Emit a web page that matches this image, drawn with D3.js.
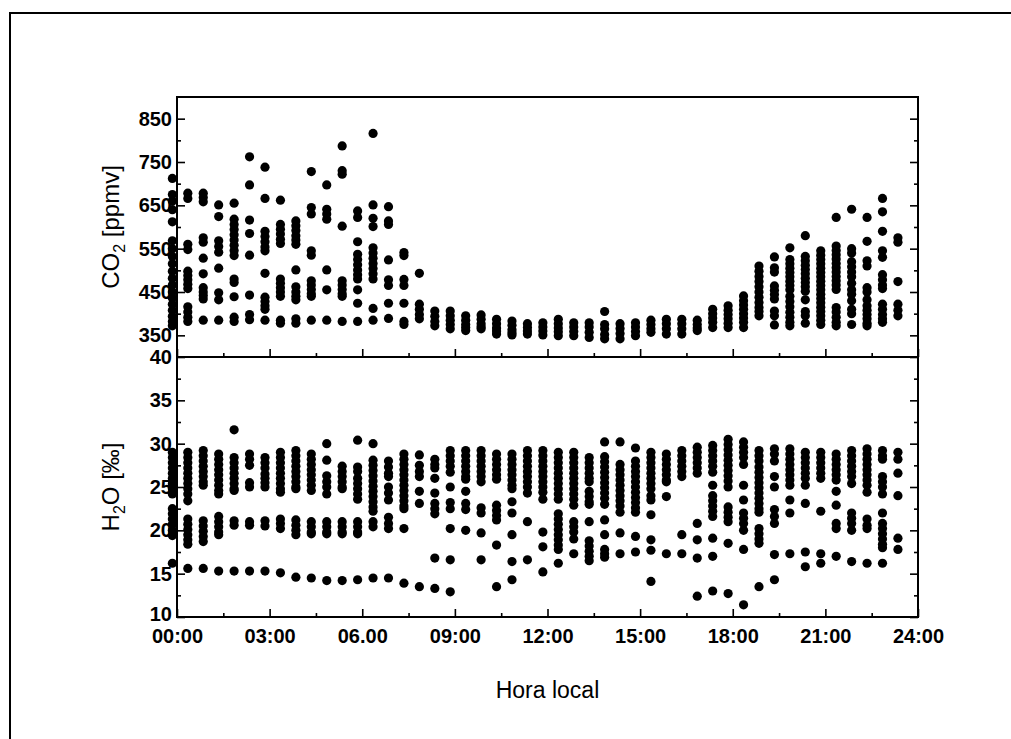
<!DOCTYPE html>
<html><head><meta charset="utf-8">
<script src="https://cdn.jsdelivr.net/npm/d3@7"></script>
<style>body{margin:0;background:#fff}</style>
</head><body>
<svg id="c" width="1011" height="739" xmlns="http://www.w3.org/2000/svg"></svg>
<script>
// time of each measurement column (decimal local hours)
const times = [-0.15, 0.35, 0.85, 1.35, 1.85, 2.35, 2.85, 3.35, 3.85, 4.35, 4.85, 5.35, 5.85, 6.35, 6.85, 7.35,
  7.85, 8.35, 8.85, 9.35, 9.85, 10.35, 10.85, 11.35, 11.85, 12.35, 12.85, 13.35, 13.85, 14.35, 14.85, 15.35,
  15.85, 16.35, 16.85, 17.35, 17.85, 18.35, 18.85, 19.35, 19.85, 20.35, 20.85, 21.35, 21.85, 22.35, 22.85, 23.35];

// CO2 [ppmv] values per column
const co2 = [
  [712, 675, 660, 640, 612, 568, 550, 532, 515, 498, 482, 466, 450, 436, 422, 408, 394, 382, 372],
  [678, 666, 560, 548, 498, 488, 478, 468, 458, 416, 404, 392, 382],
  [678, 668, 658, 575, 565, 528, 492, 460, 450, 442, 434, 385],
  [651, 624, 568, 555, 542, 505, 448, 432, 385],
  [655, 618, 606, 594, 582, 570, 558, 546, 534, 480, 472, 439, 392, 382],
  [762, 697, 616, 585, 535, 443, 398, 386],
  [738, 666, 590, 578, 566, 554, 545, 493, 438, 428, 418, 410, 385],
  [662, 606, 595, 584, 572, 562, 480, 470, 460, 450, 440, 385, 378],
  [614, 603, 592, 580, 570, 560, 501, 462, 450, 440, 432, 388, 378],
  [728, 645, 630, 545, 535, 476, 466, 456, 446, 440, 385],
  [697, 641, 630, 618, 501, 455, 385],
  [787, 730, 722, 602, 476, 466, 456, 446, 440, 382],
  [637, 622, 566, 537, 525, 513, 501, 490, 480, 455, 424, 382],
  [816, 651, 620, 601, 552, 540, 528, 516, 504, 492, 480, 412, 385],
  [647, 614, 606, 524, 478, 465, 424, 389],
  [541, 534, 479, 465, 424, 382, 375],
  [493, 422, 410, 398, 388],
  [406, 394, 382, 372],
  [406, 395, 385, 375, 365],
  [395, 385, 375, 368, 361],
  [397, 387, 377, 370, 365],
  [387, 377, 367, 360, 353],
  [383, 373, 363, 356, 351],
  [377, 368, 360, 353],
  [379, 369, 360, 351],
  [387, 377, 367, 358, 349],
  [379, 369, 359, 349],
  [379, 369, 357, 345],
  [405, 375, 365, 352, 342],
  [377, 366, 354, 342],
  [379, 369, 359, 349],
  [385, 375, 365, 357],
  [387, 377, 365, 353],
  [387, 377, 365, 353],
  [385, 375, 367, 361],
  [410, 400, 390, 380, 368],
  [418, 408, 398, 388, 378, 368],
  [441, 430, 420, 410, 400, 390, 380, 368],
  [510, 498, 486, 474, 462, 450, 438, 426, 414, 405, 395],
  [531, 506, 496, 464, 454, 444, 434, 406, 395, 374],
  [552, 525, 515, 505, 495, 485, 475, 465, 455, 440, 428, 416, 403, 392, 380, 372],
  [580, 532, 522, 512, 502, 492, 482, 472, 462, 452, 432, 405, 395, 378],
  [545, 535, 525, 515, 505, 495, 485, 475, 465, 455, 445, 435, 425, 415, 405, 395, 385, 375],
  [622, 556, 546, 536, 526, 516, 506, 496, 486, 476, 466, 456, 414, 404, 392, 380, 372],
  [641, 550, 540, 520, 508, 496, 485, 470, 455, 445, 430, 410, 400, 375],
  [622, 567, 522, 510, 460, 450, 432, 418, 408, 398, 388, 378, 372],
  [666, 635, 590, 545, 530, 490, 478, 466, 458, 422, 410, 398, 388, 380],
  [575, 565, 474, 422, 408, 395]
];

// H2O [per mil] values per column
const h2o = [
  [29.0, 28.4, 27.8, 27.2, 26.6, 26.0, 25.4, 24.8, 24.2, 22.5, 21.9, 21.3, 20.7, 20.0, 19.4, 16.2],
  [29.0, 28.4, 27.8, 27.2, 26.6, 26.0, 25.4, 24.8, 24.2, 23.4, 21.3, 20.7, 20.1, 19.5, 18.9, 18.4, 15.6],
  [29.2, 28.6, 28.0, 27.4, 26.8, 26.2, 25.6, 25.2, 21.1, 20.5, 19.9, 19.3, 18.7, 15.6],
  [28.8, 28.2, 27.6, 27.0, 26.4, 25.8, 25.2, 24.6, 24.2, 21.6, 21.0, 20.4, 19.8, 19.5, 15.3],
  [31.6, 28.4, 27.8, 27.2, 26.6, 26.0, 25.4, 24.8, 24.6, 21.1, 20.6, 15.3],
  [28.8, 28.2, 27.5, 25.5, 25.0, 21.0, 20.6, 15.3],
  [28.4, 27.8, 27.2, 26.5, 26.0, 25.5, 25.0, 21.1, 20.5, 15.3],
  [29.0, 28.4, 27.8, 27.2, 26.6, 26.0, 25.4, 24.8, 24.4, 21.3, 20.8, 20.2, 15.1],
  [29.2, 28.6, 28.0, 27.4, 26.8, 26.2, 25.6, 25.0, 24.8, 21.2, 20.6, 20.0, 19.5, 14.6],
  [28.8, 28.2, 27.6, 27.0, 26.4, 25.8, 25.2, 24.6, 21.0, 20.4, 19.8, 19.6, 14.5],
  [30.0, 28.1, 26.3, 25.6, 25.0, 24.2, 21.0, 20.4, 19.8, 19.6, 14.2],
  [27.4, 26.8, 26.2, 25.6, 25.0, 24.8, 21.0, 20.4, 19.8, 19.6, 14.2],
  [30.4, 27.3, 26.8, 26.0, 25.4, 24.8, 24.2, 23.6, 21.0, 20.4, 19.8, 19.6, 14.3],
  [30.0, 28.1, 27.5, 26.9, 26.3, 25.7, 25.1, 24.5, 23.9, 23.3, 22.7, 22.2, 21.0, 20.4, 14.5],
  [28.0, 27.3, 26.6, 26.2, 25.0, 24.3, 23.5, 21.5, 20.8, 20.2, 14.5],
  [28.8, 28.2, 27.6, 27.0, 26.4, 25.8, 25.2, 24.6, 24.0, 23.4, 22.8, 22.5, 20.2, 13.9],
  [28.7, 27.5, 26.8, 26.2, 24.5, 23.1, 13.5],
  [28.2, 27.6, 27.2, 26.0, 24.3, 23.1, 22.5, 21.9, 16.8, 13.3],
  [29.2, 28.6, 28.0, 27.4, 26.7, 25.0, 23.2, 22.5, 20.2, 16.6, 12.9],
  [29.2, 28.6, 28.0, 27.4, 26.8, 26.2, 25.9, 24.5, 23.1, 22.4, 20.0],
  [29.2, 28.6, 28.0, 27.4, 26.8, 26.2, 25.6, 22.6, 22.0, 19.7, 16.6],
  [28.8, 28.2, 27.6, 27.0, 26.4, 25.9, 22.9, 22.3, 21.7, 21.2, 18.3, 13.5],
  [28.8, 28.2, 27.6, 27.0, 26.4, 25.8, 25.2, 24.8, 23.3, 22.0, 19.5, 16.4, 14.3],
  [29.2, 28.6, 28.0, 27.4, 26.8, 26.2, 25.6, 25.0, 24.3, 21.0, 16.6],
  [29.2, 28.6, 28.0, 27.4, 26.8, 26.2, 25.6, 25.0, 24.4, 23.6, 19.8, 18.1, 15.2],
  [29.0, 28.4, 27.8, 27.2, 26.6, 26.0, 25.4, 24.8, 24.2, 23.6, 21.9, 21.3, 20.7, 20.1, 19.5, 18.9, 18.3, 17.8, 16.2],
  [29.0, 28.4, 27.8, 27.2, 26.6, 26.0, 25.4, 24.8, 24.2, 23.6, 22.9, 21.0, 20.4, 19.8, 19.0, 17.3],
  [28.4, 27.8, 27.2, 26.6, 26.0, 25.6, 24.5, 23.9, 23.3, 23.0, 21.0, 18.8, 18.2, 17.6, 17.0, 16.5],
  [30.2, 28.5, 27.9, 27.3, 26.7, 26.1, 25.5, 24.9, 24.3, 23.7, 23.0, 21.2, 19.5, 17.8, 17.3, 16.9],
  [30.2, 27.6, 27.0, 26.4, 25.8, 25.2, 24.6, 24.0, 23.4, 22.8, 22.1, 19.7, 17.3],
  [29.5, 28.0, 27.4, 26.8, 26.2, 25.6, 25.0, 24.4, 23.8, 23.2, 22.6, 22.1, 19.3, 17.5],
  [29.0, 28.4, 27.8, 27.2, 26.6, 26.0, 25.4, 24.8, 24.0, 23.5, 21.8, 18.9, 17.7, 14.1],
  [28.8, 28.2, 27.6, 27.0, 26.4, 25.8, 25.6, 23.9, 17.3],
  [29.2, 28.6, 28.0, 27.4, 26.8, 26.2, 19.5, 17.3],
  [29.6, 29.0, 28.4, 27.8, 27.2, 26.6, 20.8, 18.9, 16.8, 12.4],
  [29.8, 29.2, 28.6, 28.0, 27.4, 26.7, 25.2, 24.0, 23.4, 22.8, 22.2, 21.6, 19.1, 17.0, 13.0],
  [30.5, 29.9, 29.3, 28.7, 28.1, 27.5, 26.9, 26.3, 25.7, 25.0, 22.7, 22.1, 21.5, 21.0, 18.5, 12.7],
  [30.2, 29.6, 29.0, 28.4, 27.6, 25.2, 23.5, 22.0, 21.4, 20.8, 20.0, 17.8, 11.4],
  [29.2, 28.6, 28.0, 27.3, 26.7, 26.1, 25.5, 24.9, 24.3, 23.7, 23.1, 22.5, 22.1, 20.2, 19.6, 19.0, 18.5, 13.5],
  [29.4, 28.8, 28.0, 26.2, 25.0, 22.4, 21.6, 20.8, 17.2, 14.3],
  [29.4, 28.8, 28.2, 27.6, 27.0, 26.4, 25.8, 25.2, 23.5, 22.0, 17.3],
  [29.0, 28.4, 27.8, 27.2, 26.6, 26.0, 25.2, 23.1, 17.5, 15.8],
  [29.0, 28.4, 27.8, 27.2, 26.6, 26.0, 22.2, 17.3, 16.2],
  [28.8, 28.2, 27.6, 27.0, 26.4, 25.8, 24.5, 22.9, 20.8, 20.2, 17.0],
  [29.2, 28.6, 28.0, 27.4, 26.8, 26.2, 25.4, 22.0, 21.4, 20.8, 20.0, 16.4],
  [29.4, 28.8, 28.2, 27.6, 27.0, 26.4, 25.8, 25.2, 24.4, 21.3, 20.6, 20.2, 16.2],
  [29.2, 28.6, 28.2, 26.2, 25.6, 25.0, 24.2, 22.0, 20.8, 20.2, 19.6, 19.0, 18.4, 18.0, 16.2],
  [29.0, 28.2, 26.6, 24.0, 19.1, 17.8]
];

const xMajorTicks = [0, 3, 6, 9, 12, 15, 18, 21, 24];
const xTickLabels = ["00:00", "03:00", "06.00", "09:00", "12:00", "15:00", "18:00", "21:00", "24:00"];
const xMinorTicks = [1.5, 4.5, 7.5, 10.5, 13.5, 16.5, 19.5, 22.5];
const co2MajorTicks = [350, 450, 550, 650, 750, 850];
const co2MinorTicks = [400, 500, 600, 700, 800];
const h2oMajorTicks = [10, 15, 20, 25, 30, 35, 40];
const h2oMinorTicks = [12.5, 17.5, 22.5, 27.5, 32.5, 37.5];

const svg = d3.select("#c");
const L = 177, R = 918, T1 = 97, B1 = 357, T2 = 357, B2 = 617;
const x = d3.scaleLinear().domain([0, 24]).range([L, R]);
const yC = d3.scaleLinear().domain([300, 900]).range([B1, T1]);
const yH = d3.scaleLinear().domain([10, 40]).range([B2, T2]);
const font = "'Liberation Sans', Arial, sans-serif";

// outer frame
svg.append("path").attr("d", "M10,739 L10,13 L1011,13").attr("fill", "none")
  .attr("stroke", "#000").attr("stroke-width", 2);

function styleAxis(g, size, weight) {
  g.select(".domain").remove();
  g.selectAll("line").attr("stroke", "#000").attr("stroke-width", 1.6);
  g.selectAll("text").attr("fill", "#000").style("font-family", font)
    .style("font-size", size + "px").style("font-weight", weight);
}

// x axes (inward ticks) on both panels
[B1, B2].forEach((yy, i) => {
  const gMaj = svg.append("g").attr("transform", `translate(0,${yy})`)
    .call(d3.axisBottom(x).tickValues(xMajorTicks).tickSize(-8).tickSizeOuter(0).tickPadding(12)
      .tickFormat((d, j) => i === 1 ? xTickLabels[j] : ""));
  styleAxis(gMaj, 20, "bold");
  const gMin = svg.append("g").attr("transform", `translate(0,${yy})`)
    .call(d3.axisBottom(x).tickValues(xMinorTicks).tickSize(-4).tickSizeOuter(0).tickFormat(""));
  styleAxis(gMin, 20, "bold");
});

// y axes
function yAxes(scale, major, minor) {
  const gl = svg.append("g").attr("transform", `translate(${L},0)`)
    .call(d3.axisLeft(scale).tickValues(major).tickSize(-8).tickSizeOuter(0).tickPadding(5));
  styleAxis(gl, 20, "bold");
  const glm = svg.append("g").attr("transform", `translate(${L},0)`)
    .call(d3.axisLeft(scale).tickValues(minor).tickSize(-4).tickSizeOuter(0).tickFormat(""));
  styleAxis(glm, 20, "bold");
  const gr = svg.append("g").attr("transform", `translate(${R},0)`)
    .call(d3.axisRight(scale).tickValues(major).tickSize(-8).tickSizeOuter(0).tickFormat(""));
  styleAxis(gr, 20, "bold");
  const grm = svg.append("g").attr("transform", `translate(${R},0)`)
    .call(d3.axisRight(scale).tickValues(minor).tickSize(-4).tickSizeOuter(0).tickFormat(""));
  styleAxis(grm, 20, "bold");
  return gl;
}
yAxes(yC, co2MajorTicks, co2MinorTicks);
const gH = yAxes(yH, h2oMajorTicks, h2oMinorTicks);
// lift the lowest H2O label slightly so it clears the "00:00" time label
gH.selectAll(".tick text").filter(d => d === 10).attr("y", -3);

// data points
const co2Pts = [], h2oPts = [];
times.forEach((t, i) => {
  co2[i].forEach(v => co2Pts.push([t, v]));
  h2o[i].forEach(v => h2oPts.push([t, v]));
});
svg.append("g").selectAll("circle").data(co2Pts).join("circle")
  .attr("cx", d => x(d[0])).attr("cy", d => yC(d[1])).attr("r", 4.6).attr("fill", "#000");
svg.append("g").selectAll("circle").data(h2oPts).join("circle")
  .attr("cx", d => x(d[0])).attr("cy", d => yH(d[1])).attr("r", 4.6).attr("fill", "#000");

// panel frames
svg.append("rect").attr("x", L).attr("y", T1).attr("width", R - L).attr("height", B1 - T1)
  .attr("fill", "none").attr("stroke", "#000").attr("stroke-width", 2);
svg.append("rect").attr("x", L).attr("y", T2).attr("width", R - L).attr("height", B2 - T2)
  .attr("fill", "none").attr("stroke", "#000").attr("stroke-width", 2);

// axis titles
const t1 = svg.append("text").attr("transform", `translate(119,${(T1 + B1) / 2}) rotate(-90)`)
  .attr("text-anchor", "middle").style("font-family", font).style("font-size", "24px").attr("fill", "#000");
t1.append("tspan").text("CO");
t1.append("tspan").text("2").style("font-size", "16px").attr("dy", 6);
t1.append("tspan").text(" [ppmv]").attr("dy", -6);

const t2 = svg.append("text").attr("transform", `translate(119,${(T2 + B2) / 2}) rotate(-90)`)
  .attr("text-anchor", "middle").style("font-family", font).style("font-size", "24px").attr("fill", "#000");
t2.append("tspan").text("H");
t2.append("tspan").text("2").style("font-size", "16px").attr("dy", 6);
t2.append("tspan").text("O [‰]").attr("dy", -6);

svg.append("text").attr("x", (L + R) / 2).attr("y", 698).attr("text-anchor", "middle")
  .style("font-family", font).style("font-size", "23px").attr("fill", "#000").text("Hora local");
</script>
</body></html>
